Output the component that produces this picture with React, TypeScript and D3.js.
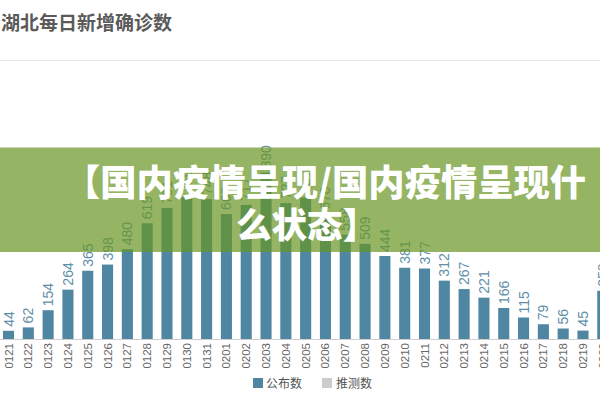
import React from "react";
import * as d3 from "d3";

const dates = ["0121","0122","0123","0124","0125","0126","0127","0128","0129","0130","0131","0201","0202","0203","0204","0205","0206","0207","0208","0209","0210","0211","0212","0213","0214","0215","0216","0217","0218","0219","0220"];
const published = [44,62,154,264,365,398,480,619,701,759,748,668,717,890,727,757,670,558,509,444,381,377,312,267,221,166,115,79,56,45,258];
const legendItems = ["公布数", "推测数"];
const title = "湖北每日新增确诊数";
const bannerLines = ["【国内疫情呈现/国内疫情呈现什", "么状态】"];

const W = 600, H = 400;
const BAR = "#4f87a2";
const EST = "#cccccc";

export default function App() {
  const x = d3.scaleBand<string>().domain(dates).range([-1.4, 612.7]).paddingInner(0.44).paddingOuter(0.22);
  const y = d3.scaleLinear().domain([0, 1000]).range([339, 152]);
  const bw = x.bandwidth();
  const num = "'Liberation Sans', Arial, sans-serif";
  const cjk = "'Noto Sans CJK SC', sans-serif";
  return (
    <svg width={W} height={H} style={{ position: "absolute", left: 0, top: 0, background: "#fff" }}>
      <rect x={0} y={0} width={W} height={H} fill="#fff" />
      <text x={1} y={30} fontFamily={cjk} fontWeight={700} fontSize={19} fill="#5a5a5a">{title}</text>
      <line x1={0} x2={W} y1={60.5} y2={60.5} stroke="#e6e6e6" strokeWidth={1} />
      <g>
        {dates.map((d, i) => {
          const cx = (x(d) as number) + bw / 2;
          const top = y(published[i]);
          return (
            <g key={d}>
              <rect x={x(d)} y={top} width={bw} height={y(0) - top} fill={BAR} />
              <text transform={`translate(${cx + 5},${top - 4}) rotate(-90)`} fontFamily={num} fontSize={14} fill="#5f8fa8">{published[i]}</text>
              <text transform={`translate(${cx + 4},${y(0) + 4}) rotate(-90)`} textAnchor="end" fontFamily={num} fontSize={11.5} fill="#666">{d}</text>
            </g>
          );
        })}
      </g>
      <line x1={0} x2={W} y1={339.5} y2={339.5} stroke="#cfcfcf" strokeWidth={1} />
      <g fontFamily={cjk} fontSize={12} fill="#555">
        <rect x={253} y={378} width={10} height={10} fill={BAR} />
        <text x={266} y={387.5}>{legendItems[0]}</text>
        <rect x={322} y={378} width={10} height={10} fill={EST} />
        <text x={336} y={387.5}>{legendItems[1]}</text>
      </g>
      <rect x={0} y={147.5} width={W} height={104.5} fill="rgb(104,150,36)" fillOpacity={0.7} />
      <g fontFamily={cjk} fontWeight={900} fill="#fff">
        <text x={64} y={196} fontSize={36.3}>{bannerLines[0]}</text>
        <text x={236} y={238} fontSize={35.5}>{bannerLines[1]}</text>
      </g>
    </svg>
  );
}
